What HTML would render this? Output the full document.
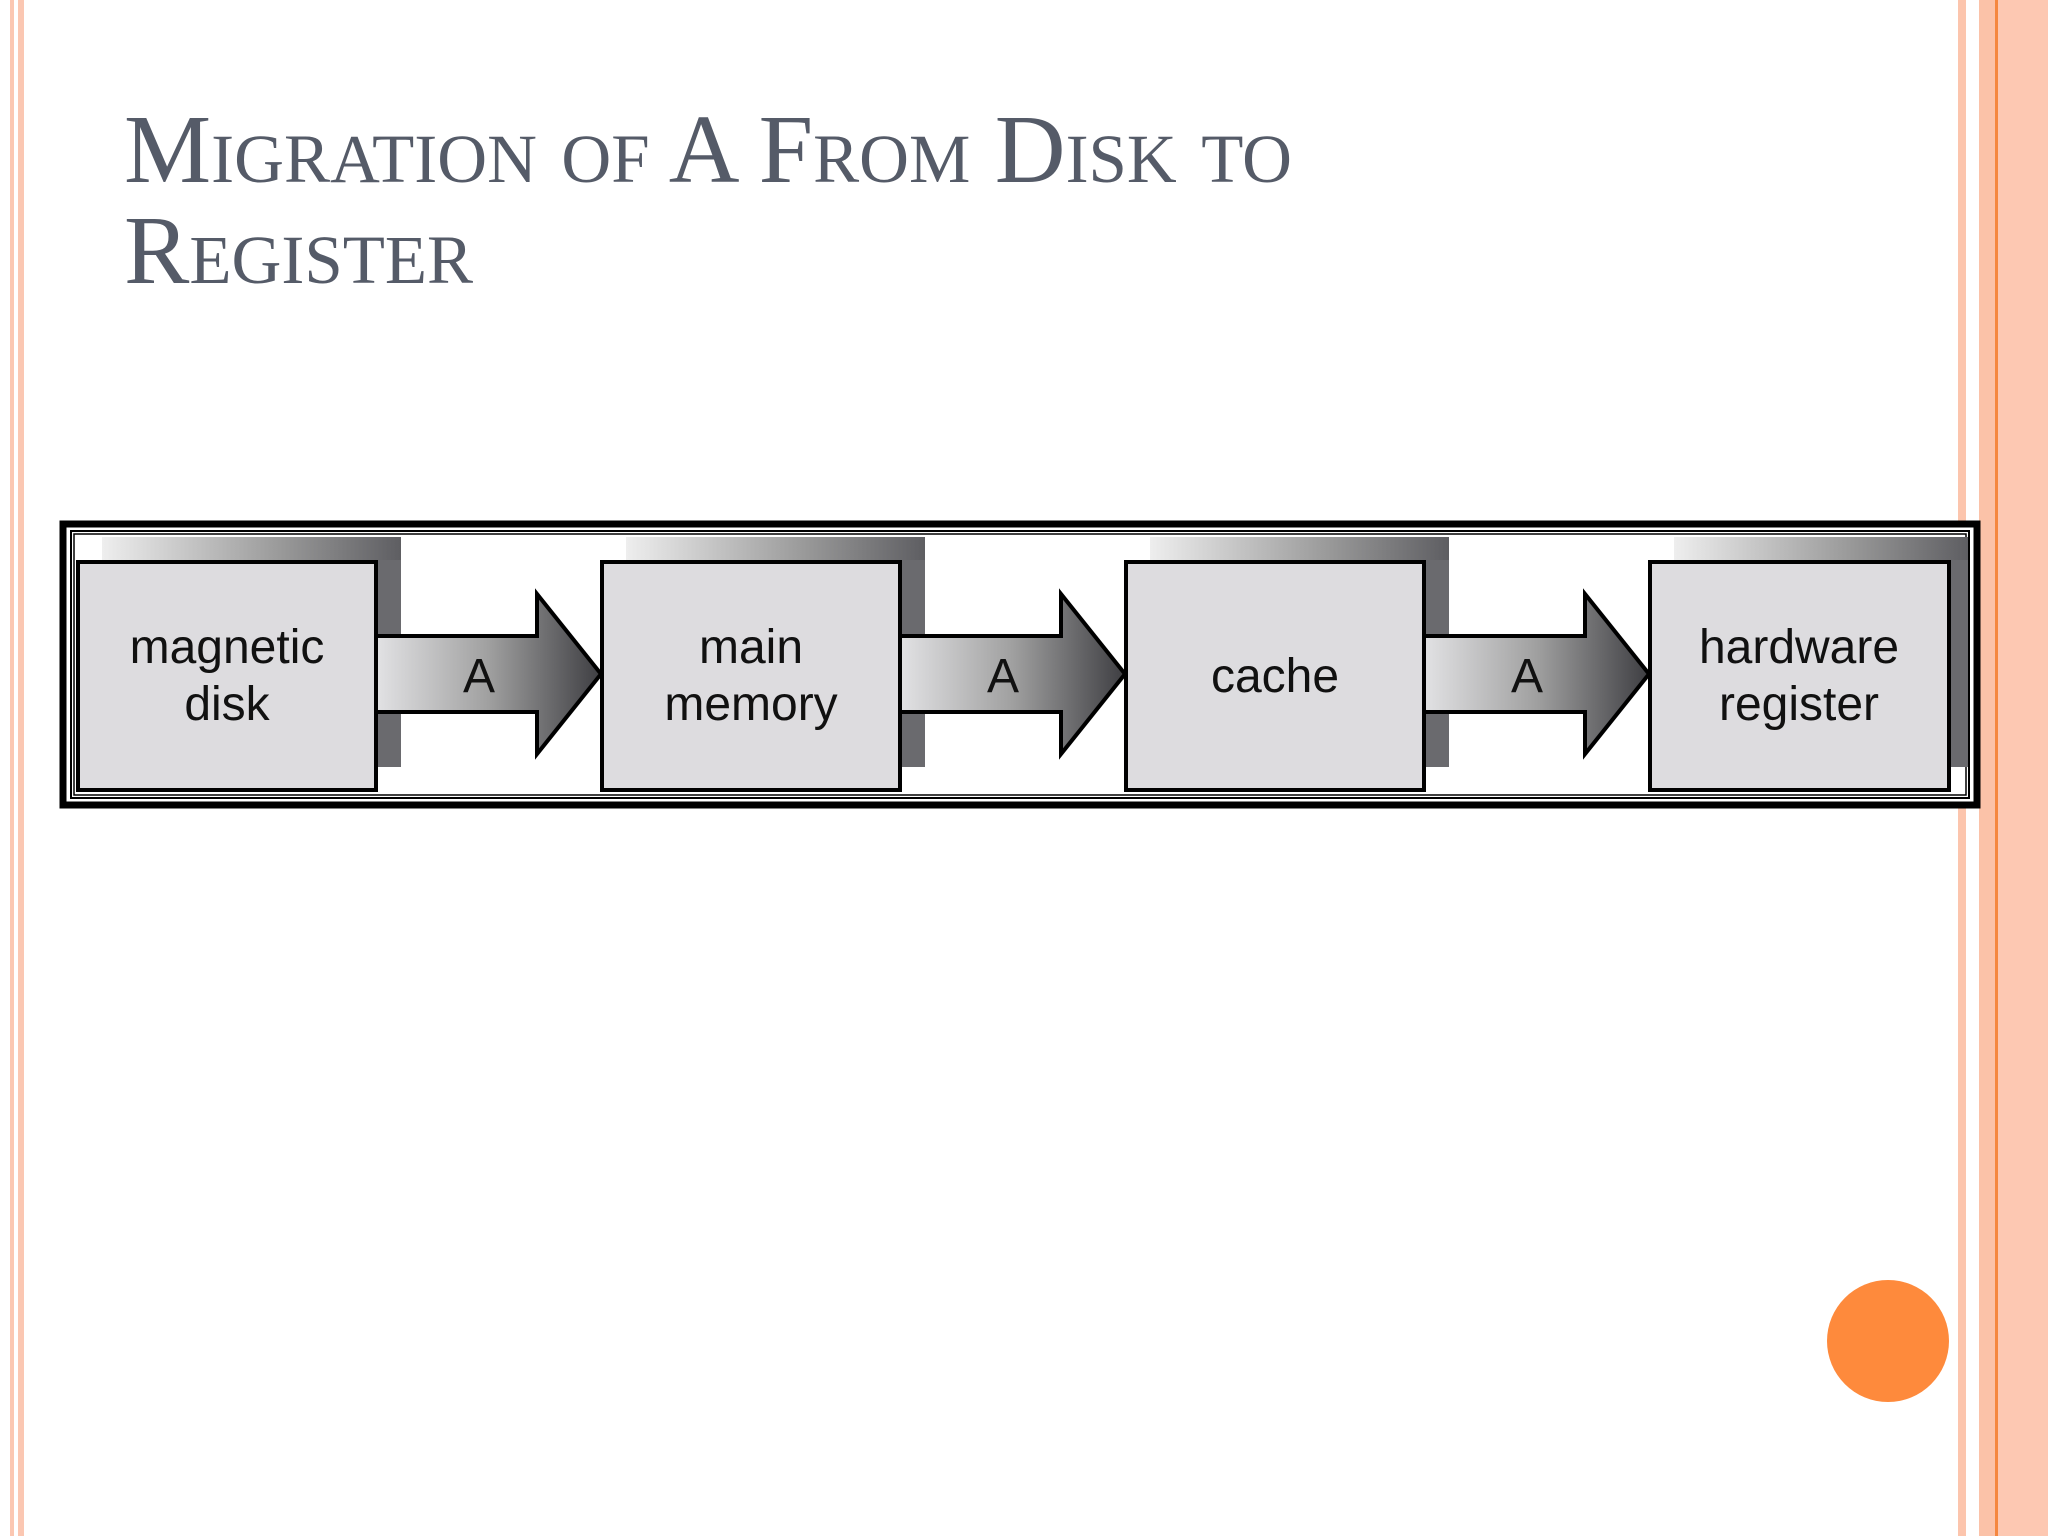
<!DOCTYPE html>
<html><head><meta charset="utf-8"><style>
html,body{margin:0;padding:0;background:#fff;}
body{width:2048px;height:1536px;position:relative;overflow:hidden;}
.t{position:absolute;left:124px;top:100px;font-family:"Liberation Serif",serif;font-variant:small-caps;font-size:98px;line-height:101px;color:#555b68;white-space:nowrap;}
</style></head><body>
<div style="position:absolute;left:10px;top:0;width:4px;height:1536px;background:#fbc7b2"></div>
<div style="position:absolute;left:18px;top:0;width:6px;height:1536px;background:#fbc7b2"></div>
<div style="position:absolute;left:1958px;top:0;width:8px;height:1536px;background:#fcc5ad"></div>
<div style="position:absolute;left:1979px;top:0;width:69px;height:1536px;background:#fdc8b2"></div>
<div style="position:absolute;left:1979px;top:0;width:16px;height:1536px;background:#fbc2a8"></div>
<div style="position:absolute;left:1995px;top:0;width:3px;height:1536px;background:#f5873f"></div>
<div class="t">Migration of A From Disk to<br>Register</div>
<div style="position:absolute;left:1827px;top:1280px;width:122px;height:122px;border-radius:50%;background:#fe8a3c"></div>
<svg style="position:absolute;left:0;top:0" width="2048" height="1536">
<defs>
<linearGradient id="sh" x1="0" x2="1" y1="0" y2="0"><stop offset="0" stop-color="#eeeeee"/><stop offset="0.6" stop-color="#999"/><stop offset="1" stop-color="#5e5e62"/></linearGradient>
<linearGradient id="ar" x1="0" x2="1" y1="0" y2="0"><stop offset="0" stop-color="#e2e2e4"/><stop offset="0.5" stop-color="#a0a0a0"/><stop offset="1" stop-color="#3e3e42"/></linearGradient>
</defs>
<rect x="63" y="524" width="1914" height="281" fill="#fff" stroke="#000" stroke-width="7"/>
<rect x="71" y="531" width="1898" height="267" fill="none" stroke="#000" stroke-width="2"/>
<rect x="74" y="534" width="1892" height="261" fill="none" stroke="#000" stroke-width="1.5"/>
<g id="u">
<rect x="102" y="537" width="299" height="230" fill="url(#sh)"/>
<rect x="378" y="560" width="23" height="207" fill="#6a6a6e"/>
<path d="M376 636 H537 V594 L601 674 L537 754 V712 H376 Z" fill="url(#ar)" stroke="#000" stroke-width="4"/>
<rect x="78" y="562" width="298" height="228" fill="#dddcdf" stroke="#000" stroke-width="4"/>
</g>
<use href="#u" x="524"/>
<use href="#u" x="1048"/>
<rect x="1674" y="537" width="294" height="230" fill="url(#sh)"/>
<rect x="1950" y="560" width="18" height="207" fill="#6a6a6e"/>
<rect x="1650" y="562" width="299" height="228" fill="#dddcdf" stroke="#000" stroke-width="4"/>
<g font-family="Liberation Sans, sans-serif" font-size="48" fill="#111" text-anchor="middle">
<text x="227" y="663">magnetic</text><text x="227" y="720">disk</text>
<text x="751" y="663">main</text><text x="751" y="720">memory</text>
<text x="1275" y="692">cache</text>
<text x="1799" y="663">hardware</text><text x="1799" y="720">register</text>
<text x="479" y="692">A</text><text x="1003" y="692">A</text><text x="1527" y="692">A</text>
</g>
</svg>
</body></html>
